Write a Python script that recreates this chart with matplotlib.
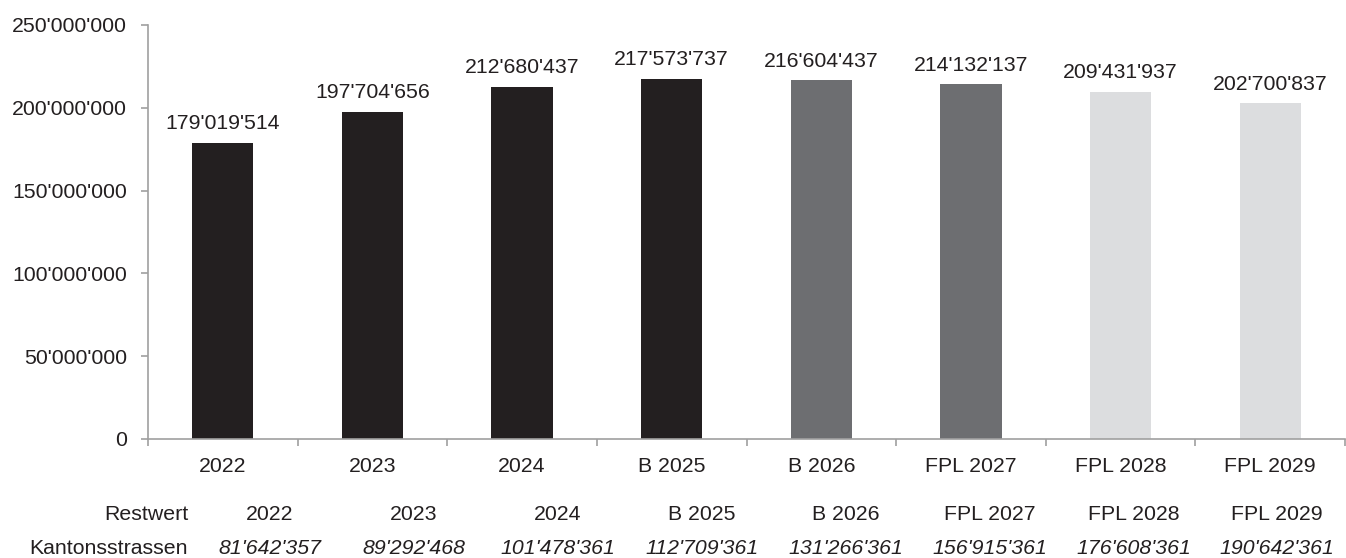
import matplotlib
matplotlib.use("Agg")
import matplotlib.pyplot as plt
from matplotlib.ticker import FuncFormatter, MultipleLocator, FixedLocator

plt.rcParams['font.family'] = ['Liberation Sans', 'DejaVu Sans']

# Daten
kategorien = ["2022", "2023", "2024", "B 2025", "B 2026", "FPL 2027", "FPL 2028", "FPL 2029"]
werte = [179019514, 197704656, 212680437, 217573737, 216604437, 214132137, 209431937, 202700837]
restwert_labels = ["2022", "2023", "2024", "B 2025", "B 2026", "FPL 2027", "FPL 2028", "FPL 2029"]
kantonsstrassen = [81642357, 89292468, 101478361, 112709361, 131266361, 156915361, 176608361, 190642361]

DUNKEL = "#231f20"
MITTEL = "#6d6e71"
HELL = "#dcdddf"
farben = [DUNKEL, DUNKEL, DUNKEL, DUNKEL, MITTEL, MITTEL, HELL, HELL]
ACHSE = "#a0a0a0"
FS = 15.3


def apostroph(v):
    return f"{int(round(v)):,}".replace(",", "'")


W, H = 1346, 558
fig = plt.figure(figsize=(W / 100, H / 100), dpi=100)
ax = fig.add_axes([148 / W, 1 - 439 / H, 1197 / W, 414 / H])

x = range(len(kategorien))
bars = ax.bar(x, werte, width=0.41, color=farben)
ax.bar_label(bars, labels=[apostroph(v) for v in werte], padding=7,
             fontsize=FS, color=DUNKEL)

ax.set_xlim(-0.5, len(kategorien) - 0.5)
ax.set_ylim(0, 250e6)
ax.yaxis.set_major_locator(MultipleLocator(50e6))
ax.yaxis.set_major_formatter(FuncFormatter(lambda v, p: apostroph(v)))

ax.set_xticks(list(x))
ax.set_xticklabels(kategorien)
ax.xaxis.set_minor_locator(FixedLocator([i - 0.5 for i in range(len(kategorien) + 1)]))
ax.tick_params(axis='x', which='major', length=0, pad=13, labelsize=FS, labelcolor=DUNKEL)
ax.tick_params(axis='x', which='minor', length=5, color=ACHSE, width=1.2)
ax.tick_params(axis='y', length=5, color=ACHSE, width=1.2, pad=10, labelsize=FS,
               labelcolor=DUNKEL)

for s in ["top", "right"]:
    ax.spines[s].set_visible(False)
for s in ["left", "bottom"]:
    ax.spines[s].set_color(ACHSE)
    ax.spines[s].set_linewidth(1.2)

# Tabelle unter dem Diagramm
y_rest = 1 - 515 / H
y_kant = 1 - 548 / H
fig.text(188 / W, y_rest, "Restwert", ha="right", va="center", fontsize=FS, color=DUNKEL)
fig.text(188 / W, y_kant, "Kantonsstrassen", ha="right", va="center", fontsize=FS, color=DUNKEL)
for i, (r, k) in enumerate(zip(restwert_labels, kantonsstrassen)):
    xp = (270 + 143.9 * i) / W
    fig.text(xp, y_rest, r, ha="center", va="center", fontsize=FS, color=DUNKEL)
    fig.text(xp, y_kant, apostroph(k), ha="center", va="center", fontsize=FS,
             color=DUNKEL, style="italic")

fig.savefig("out.png", dpi=100)
